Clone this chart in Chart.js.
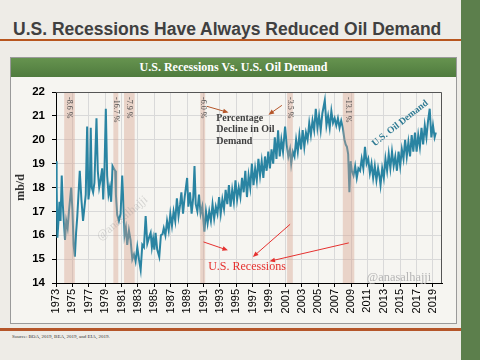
<!DOCTYPE html>
<html>
<head>
<meta charset="utf-8">
<script src="https://cdn.jsdelivr.net/npm/chart.js@4.4.1/dist/chart.umd.min.js"></script>
<style>
body{margin:0;width:480px;height:360px;overflow:hidden;background:#eeece7;position:relative}
#title{position:absolute;left:13px;top:19px;font:bold 17.5px 'Liberation Sans',Arial,sans-serif;color:#404040;white-space:nowrap}
#rule1{position:absolute;left:0;top:39px;width:461px;height:2px;background:#b8561f}
#side{position:absolute;left:461px;top:0;width:19px;height:360px;background:#5c7f4c}
#box{position:absolute;left:10px;top:57px;width:445px;height:265px;border:1px solid #9a9a9a;background:#f6f5f1}
#head{position:absolute;left:0;top:0;right:0;height:19px;background:linear-gradient(#66934f,#4f7b3e);color:#fff;font:bold 12px 'Liberation Serif',serif;text-align:center;line-height:19px}
#rule2{position:absolute;left:0;top:328px;width:461px;height:3px;background:#b5562a}
#src{position:absolute;left:12px;top:334px;font:5px 'Liberation Serif',serif;color:#333;white-space:nowrap}
#chart{position:absolute;left:0;top:0}
</style>
</head>
<body>
<div id="title">U.S. Recessions Have Always Reduced Oil Demand</div>
<div id="rule1"></div>
<div id="side"></div>
<div id="box"><div id="head">U.S. Recessions Vs. U.S. Oil Demand</div></div>
<div id="rule2"></div>
<div id="src">Source: BOA, 2019, BEA, 2019, and EIA, 2019.</div>
<canvas id="chart" width="480" height="360"></canvas>
<script>
// oil demand, mb/d
const demandYears = [
  1973.00, 1973.08, 1973.17, 1973.30, 1973.42, 1973.55, 1973.70, 1973.83,
  1974.10, 1974.25, 1974.42, 1974.58, 1974.85, 1975.00, 1975.15, 1975.30,
  1975.45, 1975.60, 1975.90, 1976.10, 1976.30, 1976.63, 1976.80, 1976.96,
  1977.12, 1977.24, 1977.37, 1977.53, 1977.69, 1977.94, 1978.10, 1978.27,
  1978.43, 1978.63, 1978.76, 1978.92, 1979.08, 1979.24, 1979.41, 1979.57,
  1979.73, 1979.90, 1980.06, 1980.22, 1980.31, 1980.47, 1980.67, 1980.88,
  1981.08, 1981.20, 1981.37, 1981.53, 1981.69, 1981.90, 1982.10, 1982.31,
  1982.51, 1982.71, 1982.92, 1983.12, 1983.33, 1983.53, 1983.73, 1983.94,
  1984.14, 1984.35, 1984.55, 1984.70, 1984.85, 1985.00, 1985.15, 1985.35,
  1985.60, 1985.80, 1986.00, 1986.15, 1986.35, 1986.55, 1986.75, 1986.95,
  1987.15, 1987.35, 1987.55, 1987.75, 1987.95, 1988.15, 1988.30, 1988.50,
  1988.70, 1989.00, 1989.15, 1989.35, 1989.55, 1989.75, 1989.90, 1990.05,
  1990.25, 1990.45, 1990.65, 1990.85, 1991.10, 1991.30, 1991.50, 1991.70,
  1991.90, 1992.10, 1992.30, 1992.50, 1992.70, 1992.90, 1993.10, 1993.30,
  1993.50, 1993.70, 1993.90, 1994.10, 1994.30, 1994.50, 1994.70, 1994.90,
  1995.10, 1995.30, 1995.50, 1995.70, 1995.90, 1996.10, 1996.30, 1996.50,
  1996.70, 1996.90, 1997.10, 1997.30, 1997.50, 1997.70, 1997.90, 1998.10,
  1998.30, 1998.50, 1998.70, 1998.90, 1999.10, 1999.30, 1999.50, 1999.70,
  1999.90, 2000.10, 2000.30, 2000.50, 2000.70, 2000.95, 2001.15, 2001.35,
  2001.55, 2001.70, 2001.90, 2002.10, 2002.30, 2002.50, 2002.70, 2002.90,
  2003.10, 2003.30, 2003.50, 2003.70, 2003.90, 2004.10, 2004.30, 2004.50,
  2004.70, 2004.90, 2005.10, 2005.30, 2005.50, 2005.80, 2006.00, 2006.20,
  2006.40, 2006.60, 2006.80, 2007.00, 2007.20, 2007.40, 2007.60, 2007.80,
  2008.00, 2008.20, 2008.35, 2008.50, 2008.65, 2008.80, 2008.95, 2009.10,
  2009.30, 2009.50, 2009.70, 2009.90, 2010.10, 2010.30, 2010.50, 2010.70,
  2010.90, 2011.10, 2011.30, 2011.50, 2011.70, 2011.90, 2012.10, 2012.30,
  2012.50, 2012.60, 2012.80, 2013.00, 2013.20, 2013.40, 2013.60, 2013.80,
  2014.00, 2014.20, 2014.40, 2014.60, 2014.80, 2015.00, 2015.20, 2015.40,
  2015.60, 2015.80, 2016.00, 2016.20, 2016.40, 2016.60, 2016.80, 2017.00,
  2017.20, 2017.40, 2017.60, 2017.80, 2018.00, 2018.20, 2018.40, 2018.60,
  2018.80, 2019.00, 2019.20, 2019.35
];
const demandValues = [
  19.1, 18.0, 15.9, 16.6, 17.4, 16.6, 18.5, 17.3,
  15.8, 16.6, 16.3, 17.0, 18.0, 17.1, 15.6, 15.1,
  16.1, 16.8, 18.7, 17.5, 16.6, 17.7, 20.55, 17.5,
  18.0, 20.5, 18.0, 17.8, 18.2, 20.9, 18.7, 18.0,
  18.3, 18.8, 17.5, 18.8, 21.3, 18.5, 17.7, 18.0,
  17.4, 18.9, 18.8, 18.7, 17.7, 16.85, 16.6, 16.9,
  18.5, 17.5, 16.0, 16.3, 15.6, 16.2, 15.8, 15.0,
  15.2, 14.9, 15.5, 15.0, 14.55, 15.6, 15.5, 16.8,
  15.65, 15.9, 16.1, 15.5, 15.85, 15.4, 16.1, 15.4,
  15.1, 16.0, 16.05, 16.3, 16.0, 16.6, 16.2, 16.9,
  16.4, 17.0, 16.6, 17.55, 16.8, 17.3, 17.8, 16.9,
  17.6, 18.4, 17.2, 17.8, 16.9, 17.6, 18.9, 17.3,
  17.0, 17.7, 16.9, 17.2, 16.15, 17.0, 16.5, 17.0,
  16.6, 17.3, 16.7, 17.2, 16.9, 17.6, 16.9, 17.5,
  17.1, 17.9, 17.3, 18.1, 17.2, 17.9, 17.4, 18.3,
  17.5, 18.0, 17.6, 18.4, 17.8, 18.7, 17.6, 18.5,
  18.0, 19.0, 18.1, 18.8, 18.3, 19.2, 18.5, 19.1,
  18.4, 19.3, 18.7, 19.5, 18.8, 19.6, 19.0, 20.1,
  19.2, 20.4, 19.3, 20.0, 19.5, 20.55, 19.8, 19.3,
  19.6, 19.0, 19.5, 19.3, 20.0, 19.5, 20.2, 19.6,
  20.4, 19.7, 20.3, 20.0, 20.7, 20.2, 20.8, 20.4,
  21.3, 20.5, 21.0, 20.4, 21.1, 21.65, 20.6, 21.0,
  20.5, 21.2, 20.7, 20.9, 20.6, 20.9, 20.5, 20.8,
  20.5, 20.0, 19.8, 19.7, 19.4, 17.8, 19.1, 18.7,
  18.5, 18.9, 18.4, 18.8, 18.7, 19.2, 18.8, 19.7,
  19.0, 19.2, 18.6, 19.0, 18.4, 18.9, 18.3, 18.8,
  18.4, 18.1, 18.8, 18.4, 19.2, 18.7, 19.4, 18.8,
  19.5, 18.9, 19.3, 18.7, 19.5, 18.9, 19.6, 19.2,
  20.0, 19.3, 19.9, 19.3, 20.2, 19.5, 20.3, 19.5,
  20.2, 19.7, 20.5, 19.8, 20.6, 20.1, 20.8, 21.3,
  20.1, 20.6, 20.1, 20.3
];

// recessions and the drop in demand during each
const recessionStart = [1974.0, 1980.0, 1981.3, 1990.6, 2001.2, 2008.0];
const recessionEnd   = [1975.3, 1980.6, 1982.6, 1991.2, 2001.9, 2009.4];
const recessionDrop  = ['-8.6 %', '-16.7 %', '-7.9 %', '-6.0 %', '-3.5 %', '-13.1 %'];

const yearTicks = [1973, 1975, 1977, 1979, 1981, 1983, 1985, 1987, 1989, 1991, 1993, 1995,
                   1997, 1999, 2001, 2003, 2005, 2007, 2009, 2011, 2013, 2015, 2017, 2019];

const lineColor = '#2a84a2';
const brown = '#b5562a';
const red = '#e5312f';

const arrow = (ctx, x1, y1, x2, y2, color) => {
    const ang = Math.atan2(y2 - y1, x2 - x1);
    ctx.strokeStyle = color;
    ctx.fillStyle = color;
    ctx.lineWidth = 1;
    ctx.beginPath();
    ctx.moveTo(x1, y1);
    ctx.lineTo(x2 - 3 * Math.cos(ang), y2 - 3 * Math.sin(ang));
    ctx.stroke();
    ctx.beginPath();
    ctx.moveTo(x2, y2);
    ctx.lineTo(x2 - 6 * Math.cos(ang - 0.4), y2 - 6 * Math.sin(ang - 0.4));
    ctx.lineTo(x2 - 6 * Math.cos(ang + 0.4), y2 - 6 * Math.sin(ang + 0.4));
    ctx.closePath();
    ctx.fill();
};

const overlay = {
    id: 'overlay',
    afterDatasetsDraw(chart) {
        const {ctx, chartArea: a, scales: {x, y}} = chart;
        const px = (v) => x.getPixelForValue(v);
        const py = (v) => y.getPixelForValue(v);
        ctx.save();

        // recession bands, over the line
        ctx.fillStyle = 'rgba(214,160,140,0.4)';
        recessionStart.forEach((s, i) => {
            ctx.fillRect(px(s), a.top, px(recessionEnd[i]) - px(s), a.bottom - a.top);
        });

        // drop labels
        ctx.fillStyle = '#4a4a4a';
        ctx.font = '8px "Liberation Serif", serif';
        ctx.textAlign = 'left';
        ctx.textBaseline = 'middle';
        recessionStart.forEach((s, i) => {
            ctx.save();
            ctx.translate(px((s + recessionEnd[i]) / 2), a.top + 5);
            ctx.rotate(Math.PI / 2);
            ctx.fillText(recessionDrop[i], 0, 0);
            ctx.restore();
        });

        // frame top / right
        ctx.strokeStyle = '#555';
        ctx.lineWidth = 1;
        ctx.beginPath();
        ctx.moveTo(a.left, a.top + 0.5);
        ctx.lineTo(a.right - 0.5, a.top + 0.5);
        ctx.lineTo(a.right - 0.5, a.bottom);
        ctx.stroke();

        // annotations
        ctx.fillStyle = '#404040';
        ctx.font = 'bold 10px "Liberation Serif", serif';
        ctx.textBaseline = 'middle';
        ['Percentage', 'Decline in Oil', 'Demand'].forEach((t, i) => {
            ctx.fillText(t, px(1992.55), py(20.91) + i * 11.5);
        });
        arrow(ctx, px(1991.41), py(21.40), px(1994.05), py(21.14), brown);
        arrow(ctx, px(2000.56), py(21.44), px(1998.93), py(21.05), brown);

        ctx.fillStyle = red;
        ctx.font = '12px "Liberation Serif", serif';
        ctx.fillText('U.S. Recessions', px(1991.57), py(14.67));
        arrow(ctx, px(1991.0), py(15.72), px(1993.98), py(15.37), red);
        arrow(ctx, px(2001.57), py(16.46), px(1997.02), py(15.09), red);
        arrow(ctx, px(2008.73), py(15.68), px(1999.05), py(14.91), red);

        ctx.save();
        ctx.translate(px(2014.99), py(20.69));
        ctx.rotate(-38.4 * Math.PI / 180);
        ctx.fillStyle = '#2e7a93';
        ctx.font = 'bold 9.5px "Liberation Serif", serif';
        ctx.textAlign = 'center';
        ctx.fillText('U.S. Oil Demand', 0, 0);
        ctx.restore();

        // watermarks
        ctx.fillStyle = '#b5b5b5';
        ctx.font = '12.4px "Liberation Serif", serif';
        ctx.fillText('@anasalhajji', px(2010.93), py(14.24));

        ctx.save();
        ctx.translate(px(1981.09), py(16.71));
        ctx.rotate(-40 * Math.PI / 180);
        ctx.fillStyle = 'rgba(150,150,150,0.35)';
        ctx.font = '12px "Liberation Serif", serif';
        ctx.textAlign = 'center';
        ctx.fillText('@anasalhajji', 0, 0);
        ctx.restore();

        ctx.restore();
    }
};

const chart = new Chart(document.getElementById('chart').getContext('2d'), {
    type: 'line',
    data: {
        datasets: [{
            label: 'U.S. Oil Demand',
            data: demandYears.map((yr, i) => ({x: yr, y: demandValues[i]})),
            borderColor: lineColor,
            borderWidth: 2,
            pointRadius: 0,
            tension: 0,
            fill: false
        }]
    },
    options: {
        responsive: false,
        animation: false,
        layout: {
            padding: {left: 10, top: 92, right: 38, bottom: 40}
        },
        scales: {
            x: {
                type: 'linear',
                min: 1973,
                max: 2020.1,
                afterBuildTicks: (scale) => {
                    scale.ticks = yearTicks.map(v => ({value: v}));
                },
                afterFit: (scale) => { scale.height = 37; },
                ticks: {
                    color: '#000',
                    minRotation: 90,
                    maxRotation: 90,
                    padding: 2,
                    autoSkip: false,
                    font: {family: '"Liberation Sans", Arial, sans-serif', size: 11},
                    callback: (v) => String(v)
                },
                grid: {
                    color: '#d9d9d9',
                    tickColor: '#000',
                    tickLength: 4
                },
                border: {color: '#000', width: 1}
            },
            y: {
                min: 14,
                max: 22,
                afterFit: (scale) => { scale.width = 46; },
                ticks: {
                    stepSize: 1,
                    color: '#000',
                    padding: 7,
                    font: {family: '"Liberation Sans", Arial, sans-serif', size: 11.5, weight: 'bold'}
                },
                grid: {
                    color: '#d9d9d9',
                    tickColor: '#000',
                    tickLength: 4
                },
                border: {color: '#000', width: 1},
                title: {
                    display: true,
                    text: 'mb/d',
                    color: '#333',
                    padding: {top: 4, bottom: 0},
                    font: {family: '"Liberation Serif", serif', size: 12, weight: 'bold'}
                }
            }
        },
        plugins: {
            legend: {display: false},
            tooltip: {enabled: false}
        }
    },
    plugins: [overlay]
});
</script>
</body>
</html>
